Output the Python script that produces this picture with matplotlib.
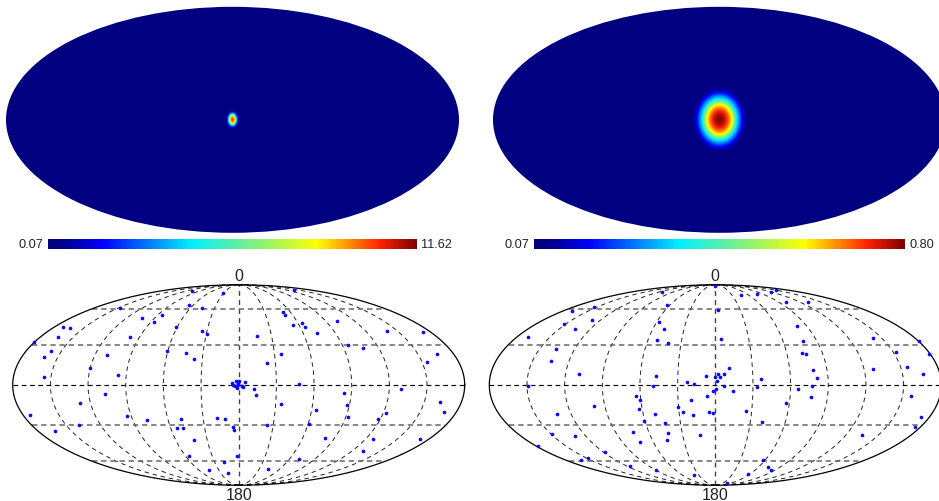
import numpy as np
import matplotlib
matplotlib.use("Agg")
import matplotlib.pyplot as plt
from matplotlib.cm import ScalarMappable
from matplotlib.colors import LinearSegmentedColormap, Normalize
from matplotlib.patches import Ellipse

plt.rcParams["font.family"] = ["Liberation Sans", "DejaVu Sans"]

W, H = 939, 502

# colour scale ends of the two maps
map_min = [0.07, 0.07]
map_max = [11.62, 0.80]
max_labels = ["11.62", "0.80"]

# colour bar stops as seen in the picture (a jet with a longer blue end)
cmap_pos = [0.0, 0.04, 0.15, 0.39, 0.56, 0.73, 0.90, 1.0]
cmap_col = ["#000080", "#00008a", "#0000ff", "#00f0ff", "#80f080", "#ffff00", "#ff2000", "#7a0000"]

# blob profile: distance from centre (map units, ellipse
# half width = 2) against fraction of the colour range
profile_r = [0.0, 0.044, 0.08, 0.097, 0.115, 0.133, 0.153, 0.177, 0.2, 0.235, 0.26]
profile_v = [1.0, 0.95, 0.85, 0.78, 0.70, 0.55, 0.39, 0.27, 0.15, 0.02, 0.0]
blob_scale = [0.24, 1.0]
blob_stretch = [1.45, 1.2]
blob_peak = [0.9, 1.0]

# event positions on the Mollweide plane, x in [-2, 2], y in [-1, 1]
left_x = [-0.410, -0.136, -1.053, -0.442, -0.322, -0.855, -0.678, -0.749, -1.552, -1.490,
          -1.596, -0.555, -0.324, -0.277, -0.959, -1.808, -1.664, -1.720, -1.168, -0.631,
          -0.463, -0.398, -1.316, -1.065, -1.726, -1.180, -1.401, -1.844, -0.988, -0.808,
          -1.416, -1.622, -0.510, -0.549, -0.490, -0.189, -0.121, -0.047, -0.038, -0.395,
          -0.437, -0.018, -0.127, -0.260, -0.097,
          -0.062, -0.024, -0.047, -0.032, -0.018, -0.003, -0.012,
          0.493, 0.392, 0.407, 0.481, 0.560, 0.584, 0.867, 0.696, 1.316, 1.631,
          0.162, 0.965, 1.100, 1.752, 0.372, 0.248, 1.667, 0.056, 0.003, 0.537,
          1.434, 0.136, 0.156, 0.935, 0.375, 0.956, 0.681, 1.779, 1.814, 0.971,
          1.307, 1.230, 0.248, 0.622, 0.767, 1.192, 1.608, 1.100, 0.534, 0.257,
          0.032, 0.038, 0.027, -0.003, -0.018]
left_y = [0.934, 0.914, 0.771, 0.801, 0.764, 0.671, 0.694, 0.625, 0.575, 0.571,
          0.482, 0.575, 0.538, 0.512, 0.475, 0.429, 0.339, 0.279, 0.299, 0.336,
          0.316, 0.259, 0.169, 0.100, 0.076, -0.093, -0.183, -0.296, -0.306, -0.352,
          -0.395, -0.458, -0.339, -0.429, -0.429, -0.332, -0.342, -0.422, -0.445, -0.551,
          -0.708, -0.711, -0.767, -0.844, -0.877,
          0.020, 0.037, 0.003, -0.013, -0.030, 0.020, -0.007,
          0.944, 0.731, 0.698, 0.601, 0.618, 0.578, 0.635, 0.522, 0.542, 0.532,
          0.485, 0.399, 0.372, 0.309, 0.312, 0.223, 0.226, 0.033, 0.040, 0.007,
          -0.043, -0.040, -0.096, -0.076, -0.193, -0.199, -0.246, -0.173, -0.269, -0.316,
          -0.276, -0.339, -0.399, -0.392, -0.528, -0.542, -0.538, -0.661, -0.734, -0.837,
          -0.013, -0.023, -0.007, 0.013, -0.007]

right_x = [-0.470, -1.269, -1.071, -0.426, -1.092, -1.337, -1.246, -0.494, -0.450, -1.660,
           -0.518, -0.423, -1.411, -1.453, -1.207, -0.521, -0.080, -0.003, 0.021, -1.660,
           -0.547, -0.249, -0.192, -0.701, -0.666, -0.675, -1.071, -1.399, -0.538, -0.213,
           -0.071, -0.334, -0.290, -0.195, -0.056, -0.021, -0.627, -0.447, -0.725, -1.447,
           -1.246, -0.417, -0.136, -0.429, -0.666, -1.571, -0.973, -1.130, -1.189, -0.754,
           -0.527, -0.189,
           -0.003, 0.027, 0.044, 0.080, 0.121, 0.015, 0.080, 0.009, -0.018, 0.157,
           0.053, 0.225, 0.367, 0.494, 0.536, 0.627, 0.822, 0.722, 0.778, 1.393,
           1.802, 1.598, 1.888, 0.763, 0.805, 1.695, 1.396, 1.840, 0.861, 0.902,
           0.402, 0.373, 0.734, 0.858, 0.843, 0.630, 1.731, 0.275, 0.411, 1.820,
           1.769, 1.296, 0.420, 0.470, 0.497, 0.293, 0.107]
right_y = [0.927, 0.738, 0.774, 0.794, 0.651, 0.608, 0.555, 0.625, 0.561, 0.482,
           0.452, 0.415, 0.355, 0.239, 0.110, 0.093, 0.090, 0.990, 0.744, -0.010,
           -0.007, 0.027, 0.007, -0.110, -0.150, -0.243, -0.209, -0.289, -0.292, -0.146,
           -0.110, -0.216, -0.266, -0.296, -0.272, -0.282, -0.355, -0.375, -0.472, -0.488,
           -0.505, -0.475, -0.495, -0.545, -0.565, -0.608, -0.671, -0.724, -0.744, -0.804,
           -0.847, -0.897,
           0.083, 0.106, 0.076, 0.106, 0.173, 0.040, -0.013, -0.040, -0.060, -0.060,
           0.455, 0.900, 0.910, 0.927, 0.950, 0.824, 0.831, 0.588, 0.442, 0.472,
           0.439, 0.332, 0.312, 0.316, 0.309, 0.179, 0.163, 0.113, 0.146, 0.070,
           0.063, -0.017, -0.037, -0.010, -0.120, -0.183, -0.110, -0.256, -0.365, -0.322,
           -0.422, -0.502, -0.748, -0.814, -0.850, -0.884, -0.983]

meridians = [-150, -120, -90, -60, -30, 0, 30, 60, 90, 120, 150]
parallels = [-60, -30, 0, 30, 60]

sky_cmap = LinearSegmentedColormap.from_list("sky", list(zip(cmap_pos, cmap_col)), N=512)


def map_axes(fig, cx, cy, half_w, half_h):
    # axes a bit bigger than the ellipse so its outline is not cut
    pad = 1.03
    x0 = (cx - half_w * pad) / W
    y0 = 1 - (cy + half_h * pad) / H
    ax = fig.add_axes([x0, y0, 2 * half_w * pad / W, 2 * half_h * pad / H])
    ax.set_xlim(-2 * pad, 2 * pad)
    ax.set_ylim(-pad, pad)
    ax.axis("off")
    return ax


def draw_heat(ax, i):
    lo, hi = map_min[i], map_max[i]
    ax.add_patch(Ellipse((0, 0), 4, 2, fc=sky_cmap(0.0), ec="none", zorder=1))
    xs = np.linspace(-0.4, 0.4, 121)
    ys = np.linspace(-0.4, 0.4, 121)
    gx, gy = np.meshgrid(xs, ys)
    r = np.hypot(gx, gy / blob_stretch[i]) / blob_scale[i]
    frac = np.interp(r, profile_r, profile_v) * blob_peak[i]
    ax.imshow(lo + (hi - lo) * frac, extent=[-0.4, 0.4, -0.4, 0.4], origin="lower",
              cmap=sky_cmap, vmin=lo, vmax=hi, aspect="auto", interpolation="bilinear", zorder=2)
    ax.set_xlim(-2.06, 2.06)
    ax.set_ylim(-1.03, 1.03)


def lat_to_theta(lat):
    phi = np.radians(lat)
    theta = phi
    for _ in range(30):
        theta = theta - (2 * theta + np.sin(2 * theta) - np.pi * np.sin(phi)) / (2 + 2 * np.cos(2 * theta))
    return theta


def draw_graticule(ax, xs, ys):
    t = np.linspace(-np.pi / 2, np.pi / 2, 200)
    for lon in meridians:
        if lon == 0:
            ax.plot(0 * t, np.sin(t), color="#444444", lw=1.0, dashes=(3.5, 3))
        else:
            ax.plot(lon / 90 * np.cos(t), np.sin(t), color="#222222", lw=0.7, dashes=(4.5, 4))
    for lat in parallels:
        th = lat_to_theta(lat)
        edge = 2 * np.cos(th)
        if lat == 0:
            ax.plot([-edge, edge], [0, 0], color="k", lw=0.85, dashes=(4, 3))
        else:
            ax.plot([-edge, edge], [np.sin(th)] * 2, color="#666666", lw=1.1, dashes=(3.5, 2.5))
    a = np.linspace(0, 2 * np.pi, 400)
    ax.plot(2 * np.cos(a), np.sin(a), color="k", lw=0.9)
    ax.scatter(xs, ys, s=7, color="#0a0aff", linewidths=0, zorder=5)


fig = plt.figure(figsize=(W / 100, H / 100), dpi=100)

heat_centres = [232.5, 719.5]
bar_left = [47.7, 534.3]
bar_right = [417.3, 905.0]
low_label_x = [43, 529]
high_label_x = [421, 909]

for i in range(2):
    ax = map_axes(fig, heat_centres[i], 120.8, 226.5, 113)
    draw_heat(ax, i)

    cax = fig.add_axes([bar_left[i] / W, 1 - 250 / H, (bar_right[i] - bar_left[i]) / W, 9.8 / H])
    sm = ScalarMappable(Normalize(map_min[i], map_max[i]), sky_cmap)
    cb = fig.colorbar(sm, cax=cax, orientation="horizontal")
    cb.set_ticks([])
    cb.outline.set_visible(False)
    fig.text(low_label_x[i] / W, 1 - 245.5 / H, f"{map_min[i]:.2f}", ha="right", va="center",
             fontsize=9.2, color="#222222")
    fig.text(high_label_x[i] / W, 1 - 245.5 / H, max_labels[i], ha="left", va="center",
             fontsize=9.2, color="#222222")

scatter_centres = [238.7, 715.3]
scatter_x = [left_x, right_x]
scatter_y = [left_y, right_y]
for i in range(2):
    ax = map_axes(fig, scatter_centres[i], 386, 226, 100.2)
    draw_graticule(ax, scatter_x[i], scatter_y[i])
    fig.text(scatter_centres[i] / W, 1 - 276.5 / H, "0", ha="center", va="center",
             fontsize=11.5, color="#222222")
    fig.text(scatter_centres[i] / W, 1 - 496 / H, "180", ha="center", va="center",
             fontsize=11.5, color="#222222")

fig.savefig("out.png", dpi=100)
